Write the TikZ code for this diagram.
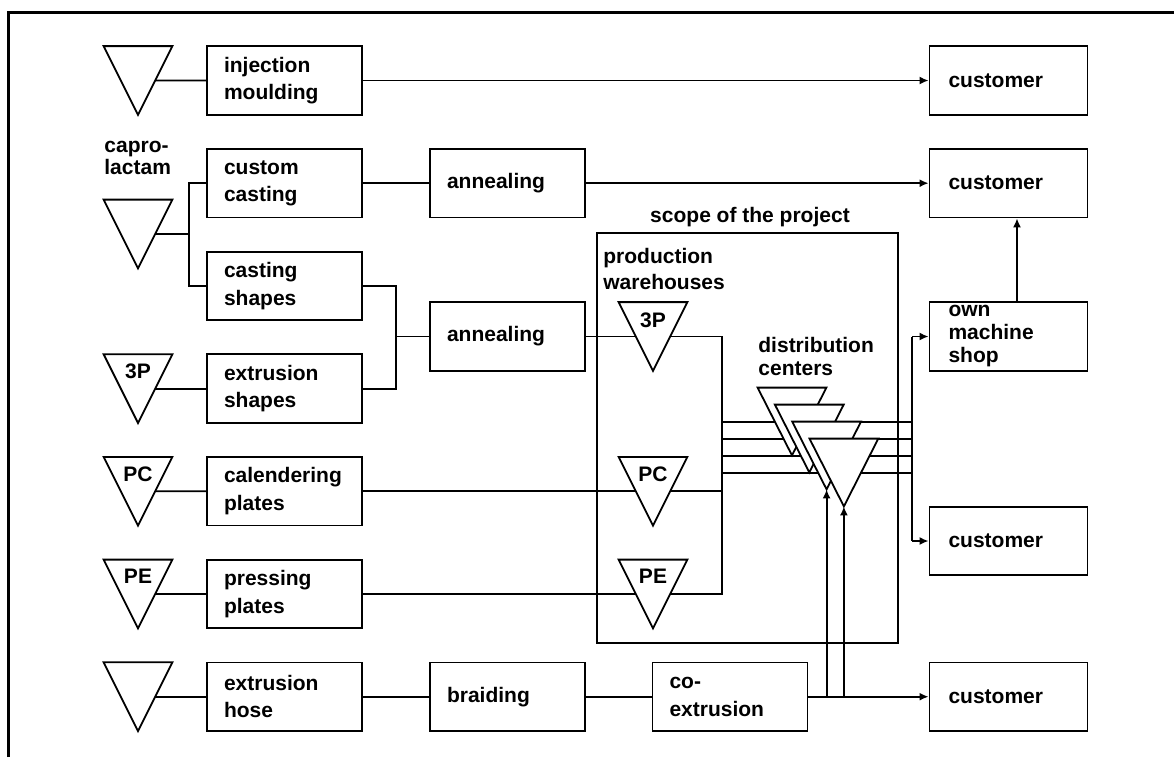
\documentclass[tikz,border=0pt]{standalone}
\usepackage{fontspec}
\setmainfont{Liberation Sans}
\usetikzlibrary{arrows.meta,calc}
\begin{document}
\begin{tikzpicture}[x=0.5pt,y=-0.5pt,
  line/.style={line width=0.9pt},
  arr/.style={line width=0.9pt,-{Latex[length=4.5pt,width=4pt]}},
  box/.style={draw,line width=0.9pt,minimum width=77.5pt,minimum height=34.25pt,
    inner xsep=8.5pt,inner ysep=0pt,text width=60.5pt,align=left,
    font=\bfseries\fontsize{10.5}{13.75}\selectfont},
  custbox/.style={box,minimum width=79pt,inner xsep=9.5pt,text width=60pt},
  tri/.style={minimum width=34pt,minimum height=34pt,inner sep=0pt},
  dtri/.style={minimum width=34pt,minimum height=33.5pt,inner sep=0pt},
  lbl/.style={inner sep=0pt,align=left,font=\bfseries\fontsize{10.5}{13}\selectfont},
  trifill/.style={line width=0.9pt,fill=white,line join=miter}]
\useasboundingbox (0,0) rectangle (1174,757);
% frame
\draw[line width=1.5pt] (8,757) -- (8,12) -- (1174,12);

% scope of the project
\node[draw,line width=0.9pt,inner sep=0pt,minimum width=150.5pt,minimum height=205pt] (scope) at (747.5,438) {};
\node[lbl,anchor=base] (scopelbl) at (750,222) {scope of the project};

% process boxes
\node[box] (im)  at (284.5,80.5)  {injection\\moulding};
\node[box] (cc)  at (284.5,183.2) {custom\\casting};
\node[box] (cs)  at (284.5,285.9) {casting\\shapes};
\node[box] (es)  at (284.5,388.6) {extrusion\\shapes};
\node[box] (cal) at (284.5,491.3) {calendering\\plates};
\node[box] (pp)  at (284.5,594)   {pressing\\plates};
\node[box] (eh)  at (284.5,696.7) {extrusion\\hose};
\node[box] (an1) at (507.5,183.2) {annealing};
\node[box] (an2) at (507.5,336.5) {annealing};
\node[box] (br)  at (507.5,696.7) {braiding};
\node[box] (cx)  at (730,696.7)   {co-\\extrusion};
\node[custbox] (c1) at (1008.5,80.5)  {customer};
\node[custbox] (c2) at (1008.5,183.2) {customer};
\node[custbox,font=\bfseries\fontsize{10.5}{11.5}\selectfont] (oms) at (1008.5,336.5) {own\\machine\\shop};
\node[custbox] (c3) at (1008.5,541)   {customer};
\node[custbox] (c4) at (1008.5,696.7) {customer};

% triangle placeholders
\node[tri] (s1) at (138,80.5) {};
\node[tri] (s2) at (138,234) {};
\node[tri] (s3) at (138,388.6) {};
\node[tri] (s4) at (138,491.3) {};
\node[tri] (s5) at (138,594) {};
\node[tri] (s6) at (138,696.7) {};
\node[tri] (w1) at (653,336.5) {};
\node[tri] (w2) at (653,491.3) {};
\node[tri] (w3) at (653,594) {};
\node[dtri] (d1) at (792,421.5) {};
\node[dtri] (d2) at (809.3,438.5) {};
\node[dtri] (d3) at (826.6,455.5) {};
\node[dtri] (d4) at (843.9,472.5) {};

% junction coordinates
\coordinate (cj) at (189,234);
\coordinate (mj) at (396,336.5);
\coordinate (bl) at (722,336.5);
\coordinate (brr) at (912,336.5);

% connectors
\draw[line] ($(s1.north east)!.5!(s1.south)$) -- (im.west);
\draw[arr] (im.east) -- (c1.west);
\draw[line] ($(s2.north east)!.5!(s2.south)$) -- (cj);
\draw[line] (cc.west) -| (cj) |- (cs.west);
\draw[line] (cc.east) -- (an1.west);
\draw[arr] (an1.east) -- (c2.west);
\draw[line] (cs.east) -| (mj) |- (es.east);
\draw[line] (mj) -- (an2.west);
\draw[line] ($(s3.north east)!.5!(s3.south)$) -- (es.west);
\draw[line] ($(s4.north east)!.5!(s4.south)$) -- (cal.west);
\draw[line] ($(s5.north east)!.5!(s5.south)$) -- (pp.west);
\draw[line] ($(s6.north east)!.5!(s6.south)$) -- (eh.west);
\draw[line] (eh.east) -- (br.west);
\draw[line] (br.east) -- (cx.west);
\draw[arr] (cx.east) -- (c4.west);
\draw[line] (an2.east) -- (bl) -- (bl |- pp.east) -- (pp.east);
\draw[line] (cal.east) -- (cal.east -| bl);
\foreach \yy in {422,439,456,473}
  \draw[line] ($(bl)+(0,\yy-336.5)$) -- ($(brr)+(0,\yy-336.5)$);
\draw[line] (brr) -- (brr |- c3.west);
\draw[arr] (brr) -- (oms.west);
\draw[arr] (brr |- c3.west) -- (c3.west);
\draw[arr] ($(oms.north)+(8.5,0)$) -- ($(c2.south)+(8.5,0)$);

% triangles
\foreach \n in {s1,s2,s3,s4,s5,s6,w1,w2,w3,d1,d2,d3,d4}
  \draw[trifill] (\n.north west) -- (\n.north east) -- (\n.south) -- cycle;

% arrows into distribution centers
\draw[arr] (d3.south |- cx.east) -- (d3.south);
\draw[arr] (d4.south |- cx.east) -- (d4.south);

% triangle labels
\node[lbl,anchor=base] (t3p) at (138,378) {3P};
\node[lbl,anchor=base] (tpc) at (138,481) {PC};
\node[lbl,anchor=base] (tpe) at (138,583) {PE};
\node[lbl,anchor=base] (w3p) at (653,327) {3P};
\node[lbl,anchor=base] (wpc) at (653,481) {PC};
\node[lbl,anchor=base] (wpe) at (653,583) {PE};

% other labels
\node[lbl,anchor=north west,font=\bfseries\fontsize{10.5}{11}\selectfont] (cap) at (104,141) {capro-\\lactam};
\node[lbl,anchor=north west] (pw) at (603,248) {production\\warehouses};
\node[lbl,anchor=north west,font=\bfseries\fontsize{10.5}{11.5}\selectfont] (dc) at (758,337) {distribution\\centers};
\end{tikzpicture}
\end{document}
